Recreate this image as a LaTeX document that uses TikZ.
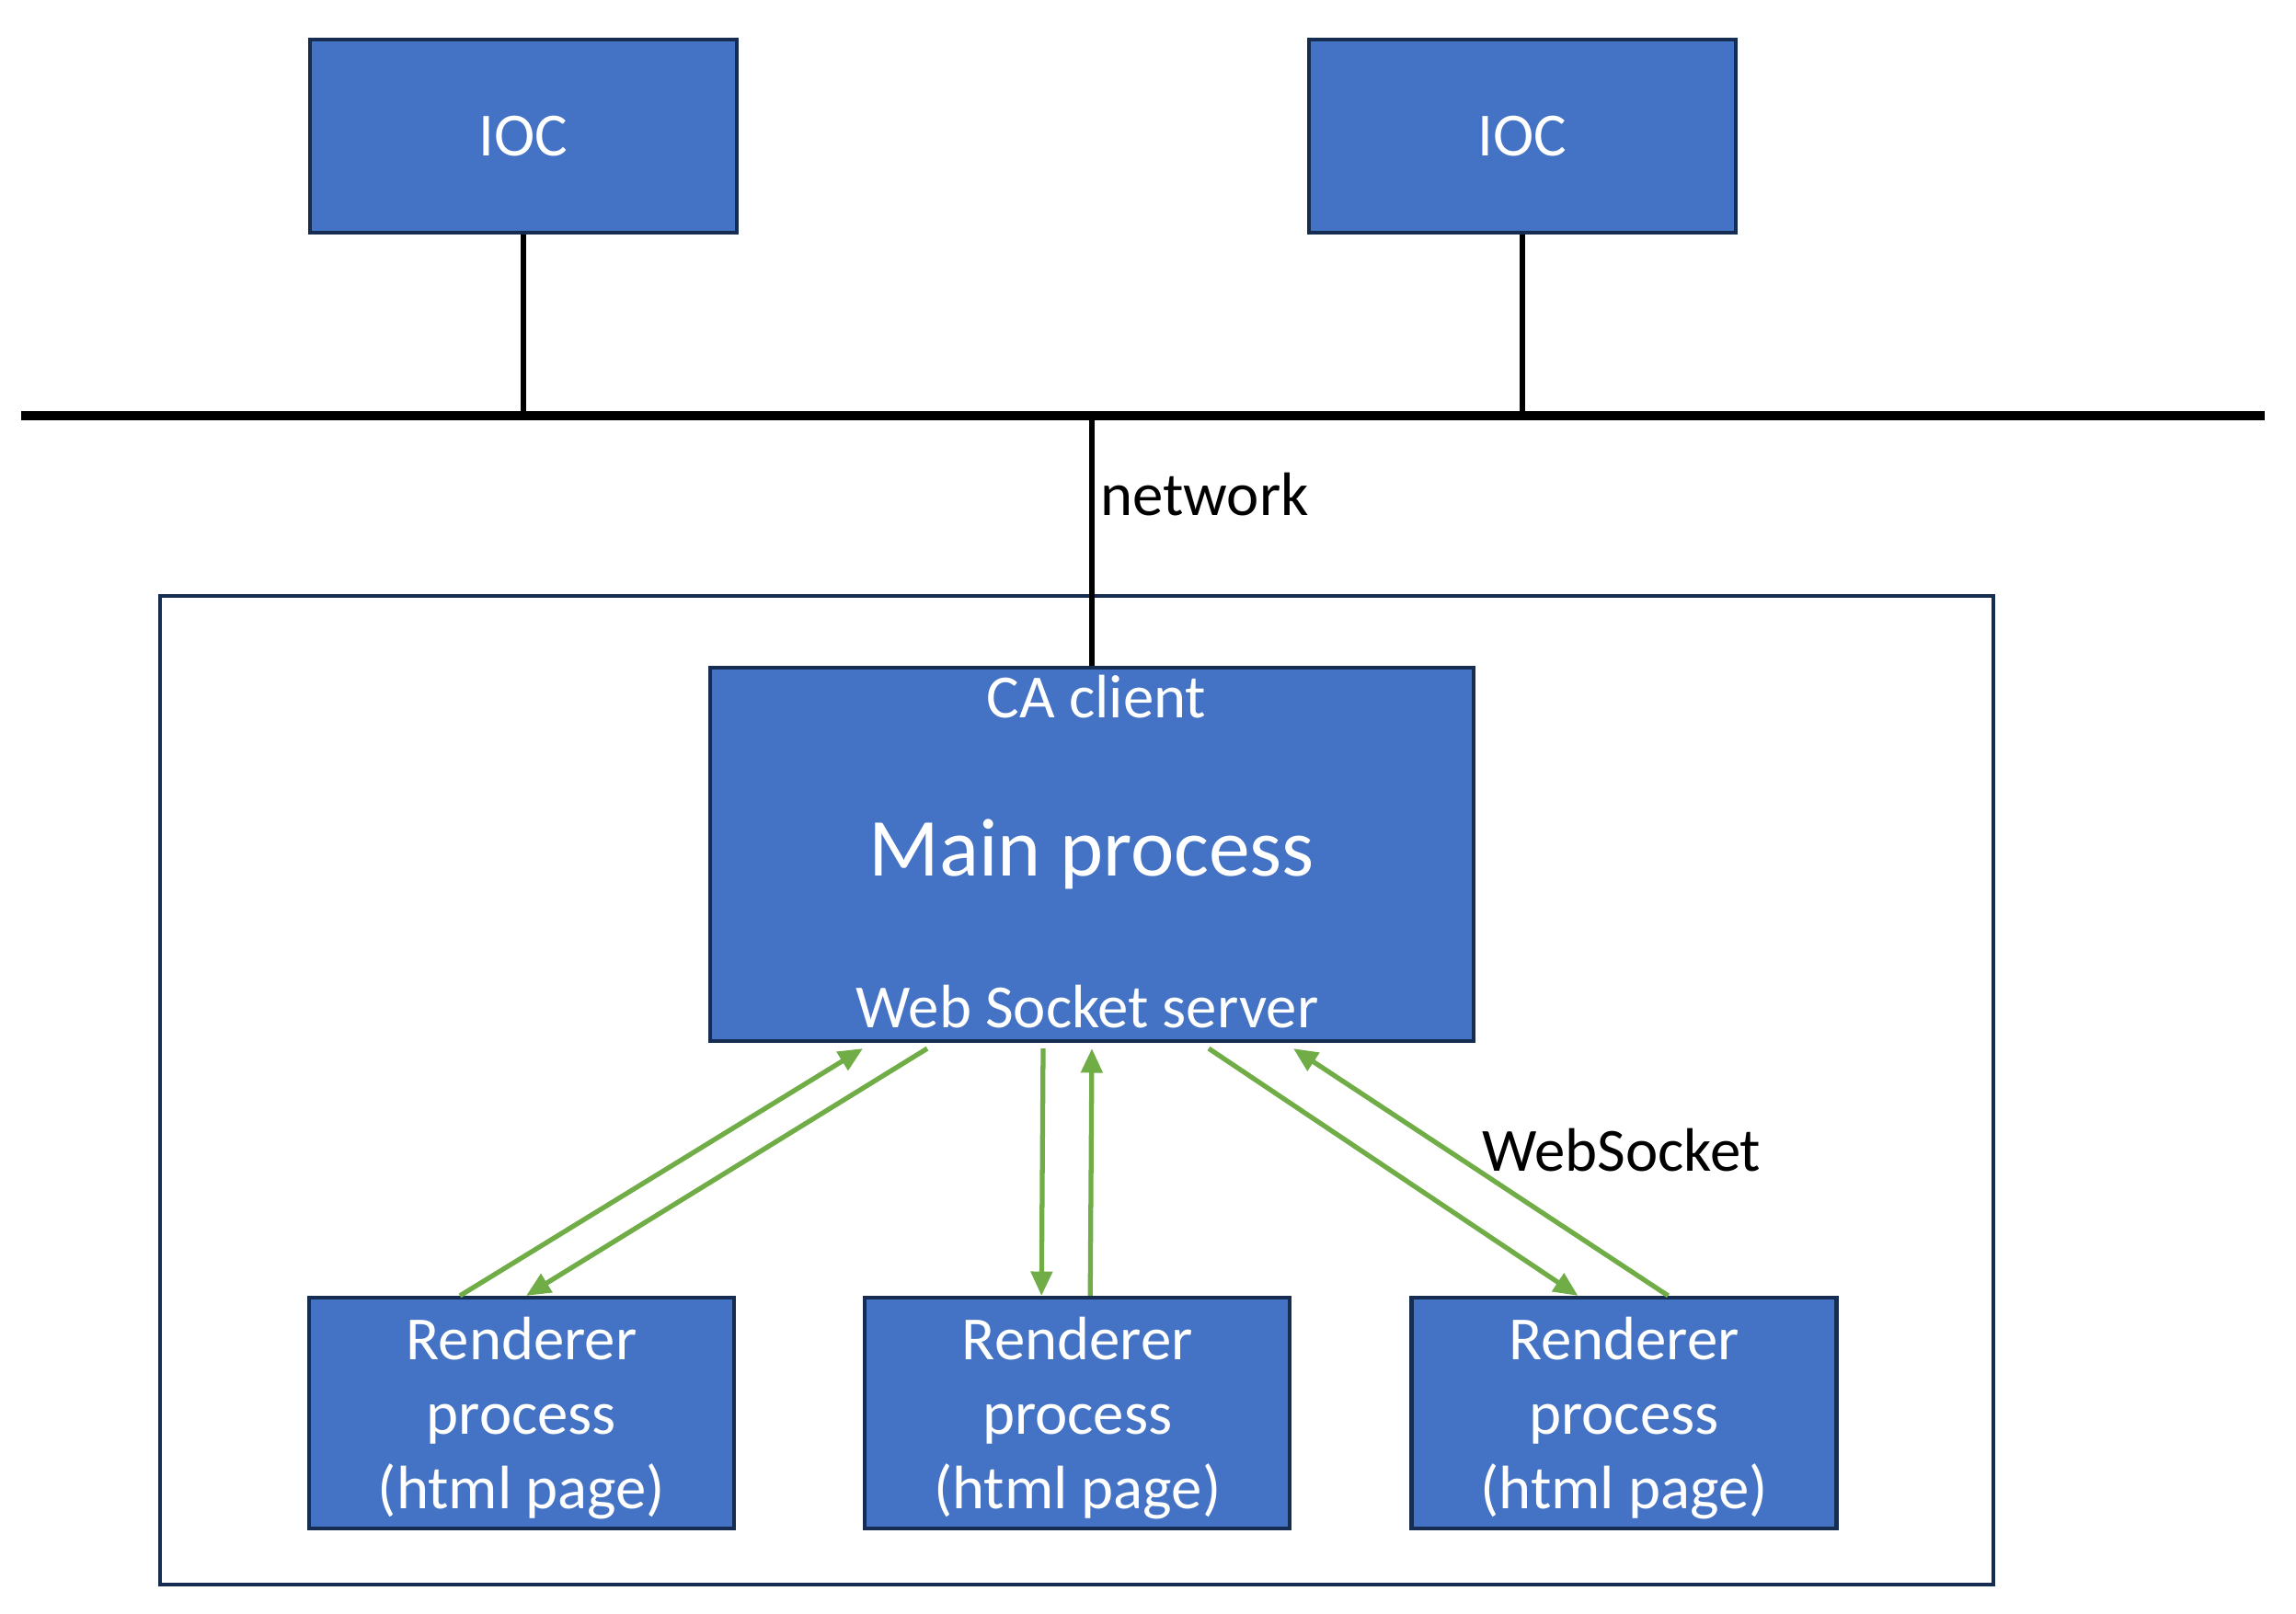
\documentclass[tikz,border=0pt]{standalone}
\usepackage{fontspec}
\setmainfont{Carlito}
\usepackage{tikz}
\usetikzlibrary{positioning,arrows.meta}

\definecolor{boxfill}{HTML}{4472C4}
\definecolor{boxline}{HTML}{172C51}
\definecolor{wsgreen}{HTML}{70AD47}

\tikzset{
  procbox/.style={draw=boxline,fill=boxfill,line width=1.2pt,text=white,
    font=\fontsize{19}{23}\selectfont,align=center,inner sep=0pt},
  rendbox/.style={procbox,minimum width=4.62cm,minimum height=2.51cm,text depth=0pt},
  hostbox/.style={draw=boxline,line width=1.3pt,inner sep=0pt},
  bus/.style={line width=2.6pt},
  tap/.style={line width=1.6pt},
  wsarrow/.style={-{Triangle[length=7.5pt,width=6.5pt]},line width=1.5pt,draw=wsgreen},
  lbl/.style={font=\fontsize{19}{23}\selectfont},
  inlbl/.style={font=\fontsize{19}{23}\selectfont,text=white,anchor=base}
}

\begin{document}
\begin{tikzpicture}

  \useasboundingbox (0,0) rectangle (24.96,-17.54);

  % Host frame
  \node [hostbox,minimum width=19.93cm,minimum height=10.75cm] (host) at (11.705,-11.855) {};

  % IOCs
  \node [procbox,minimum width=4.64cm,minimum height=2.10cm] (ioc1) at (5.69,-1.48) {IOC};
  \node [procbox,minimum width=4.64cm,minimum height=2.10cm,right=6.18cm of ioc1] (ioc2) {IOC};

  % Network
  \coordinate (netL) at (0.23,-4.52);
  \coordinate (netR) at (24.62,-4.52);
  \draw [bus] (netL) -- (netR);
  \draw [tap] (ioc1.south) -- (ioc1.south |- netL);
  \draw [tap] (ioc2.south) -- (ioc2.south |- netL);

  % Main process
  \node [procbox,minimum width=8.30cm,minimum height=4.06cm,font=\fontsize{25.5}{30}\selectfont] (main) at (11.87,-9.29) {Main process};
  \node [inlbl] (caclient) at ([xshift=0.05cm,yshift=-0.57cm]main.north) {CA client};
  \node [inlbl] (wsserver) at ([xshift=-0.05cm,yshift=0.17cm]main.south) {Web Socket server};
  \draw [tap] (main.north) -- (main.north |- netL);
  \node [lbl,anchor=base west] (netlbl) at (11.84,-5.60) {network};

  % Renderers
  \node [rendbox] (r1) at (5.67,-15.365) {Renderer\\process\\(html page)};
  \node [rendbox,right=1.38cm of r1] (r2) {Renderer\\process\\(html page)};
  \node [rendbox,right=1.28cm of r2] (r3) {Renderer\\process\\(html page)};

  % WebSocket links
  \draw [wsarrow] ([xshift=-0.67cm]r1.north) -- ([xshift=-2.49cm,yshift=-0.06cm]main.south);
  \draw [wsarrow] ([xshift=-1.79cm,yshift=-0.06cm]main.south) -- ([xshift=0.05cm]r1.north);
  \draw [wsarrow] ([xshift=-0.53cm,yshift=-0.06cm]main.south) -- ([xshift=-0.39cm]r2.north);
  \draw [wsarrow] ([xshift=0.14cm]r2.north) -- ([yshift=-0.06cm]main.south);
  \draw [wsarrow] ([xshift=1.27cm,yshift=-0.06cm]main.south) -- ([xshift=-0.50cm]r3.north);
  \draw [wsarrow] ([xshift=0.48cm]r3.north) -- ([xshift=2.19cm,yshift=-0.06cm]main.south);
  \node [lbl,anchor=base west] (wslbl) at (15.99,-12.73) {WebSocket};

\end{tikzpicture}
\end{document}
